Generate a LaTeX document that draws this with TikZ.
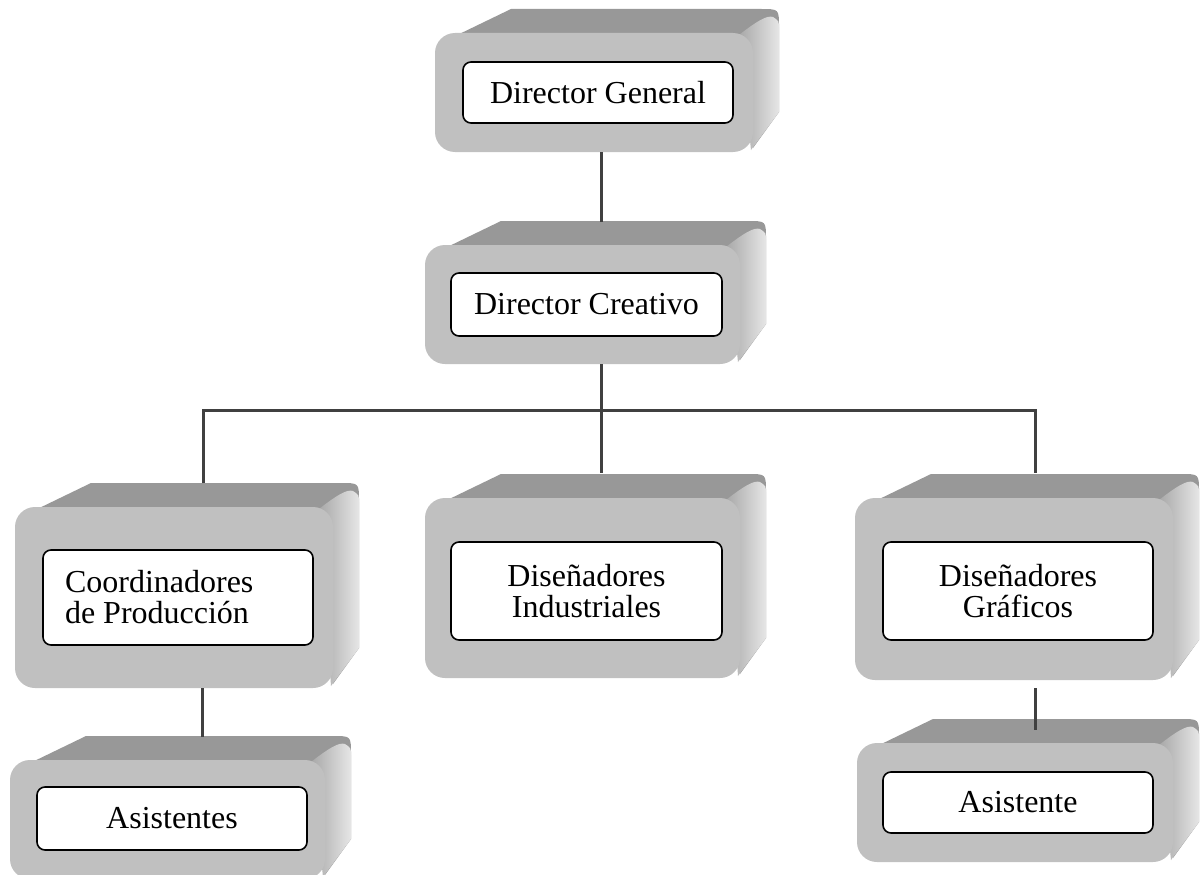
\documentclass[tikz,border=0pt]{standalone}
\usepackage{fontspec}
\setmainfont{Liberation Serif}
\definecolor{frontgray}{RGB}{192,192,192}
\definecolor{topgray}{RGB}{152,152,152}
\definecolor{rightdark}{RGB}{168,168,168}
\definecolor{rightlight}{RGB}{230,230,230}
\definecolor{connector}{RGB}{64,64,64}
\tikzset{
  frontface/.style={rectangle, rounded corners=20pt, fill=frontgray, inner sep=0pt, draw=none},
  innerbox/.style={rectangle, rounded corners=8pt, draw=black, line width=1.6pt, fill=white,
    inner sep=0pt, align=center, font=\fontsize{32}{31}\selectfont},
  conn/.style={line width=3pt, draw=connector},
}
\newcommand\orgcube[5]{%
  \begin{scope}[shift={(#2,#3)}]
    \fill[topgray] (14,6) -- (76,-24) -- ({#4+8},-24) .. controls ({#4+26},-24) .. ({#4+26},-6)
      -- ({#4+26},{#5-40}) -- ({#4},{#5-4}) -- ({#4},10) -- cycle;
    \shade[left color=rightdark, right color=rightlight] ({#4-14},2)
      .. controls ({#4+4},-12) and ({#4+14},-18) .. ({#4+20},-16)
      .. controls ({#4+26},-12) .. ({#4+26},-4) -- ({#4+26},{#5-40}) -- ({#4-2},{#5-2}) -- cycle;
    \node[frontface, minimum width=#4pt, minimum height=#5pt] (#1F) at ({#4/2},{#5/2}) {};
  \end{scope}}
\begin{document}
\begin{tikzpicture}[x=1pt,y=-1pt]
\fill[white] (0,0) rectangle (1200,875);
\useasboundingbox (0,0) rectangle (1200,875);

\orgcube{dg}{435}{33}{318}{119}
\orgcube{dc}{425}{245}{315}{119}
\orgcube{cp}{15}{507}{318}{181}
\orgcube{di}{425}{498}{315}{180}
\orgcube{dgr}{855}{498}{318}{182}
\orgcube{asa}{10}{760}{315}{119}
\orgcube{asb}{857}{743}{316}{119}

\node[innerbox, minimum width=270pt, minimum height=61pt] (dg) at (598,92.5) {Director General};
\node[innerbox, minimum width=271pt, minimum height=63pt] (dc) at (586.5,304.5) {Director Creativo};
\node[innerbox, align=flush left, text width=226pt, inner xsep=22pt, minimum height=95pt] (cp) at (178,597.5) {Coordinadores\\de Producción};
\node[innerbox, minimum width=271pt, minimum height=98pt] (di) at (586.5,591) {Diseñadores\\Industriales};
\node[innerbox, minimum width=270pt, minimum height=98pt] (dgra) at (1018,591) {Diseñadores\\Gráficos};
\node[innerbox, minimum width=270pt, minimum height=63pt] (as1) at (172,818.5) {Asistentes};
\node[innerbox, minimum width=270pt, minimum height=61pt] (as2) at (1018,802.5) {Asistente};

\coordinate (dgB) at (601,152);
\coordinate (dcT) at (601,222);
\coordinate (dcB) at (601,364);
\coordinate (busM) at (601,410);
\coordinate (busL) at (203,410);
\coordinate (busR) at (1035,410);
\coordinate (cpT) at (203,483);
\coordinate (diT) at (601,473);
\coordinate (dgrT) at (1035,473);
\coordinate (cpB) at (202,688);
\coordinate (asaT) at (202,737);
\coordinate (dgrB) at (1035,688);
\coordinate (asbT) at (1035,730);

\draw[conn] (dgB) -- (dcT);
\draw[conn] (dcB) -- (busM);
\draw[conn] (cpT) -- (busL) -- (busR) -- (dgrT);
\draw[conn] (busM) -- (diT);
\draw[conn] (cpB) -- (asaT);
\draw[conn] (dgrB) -- (asbT);
\end{tikzpicture}
\end{document}
